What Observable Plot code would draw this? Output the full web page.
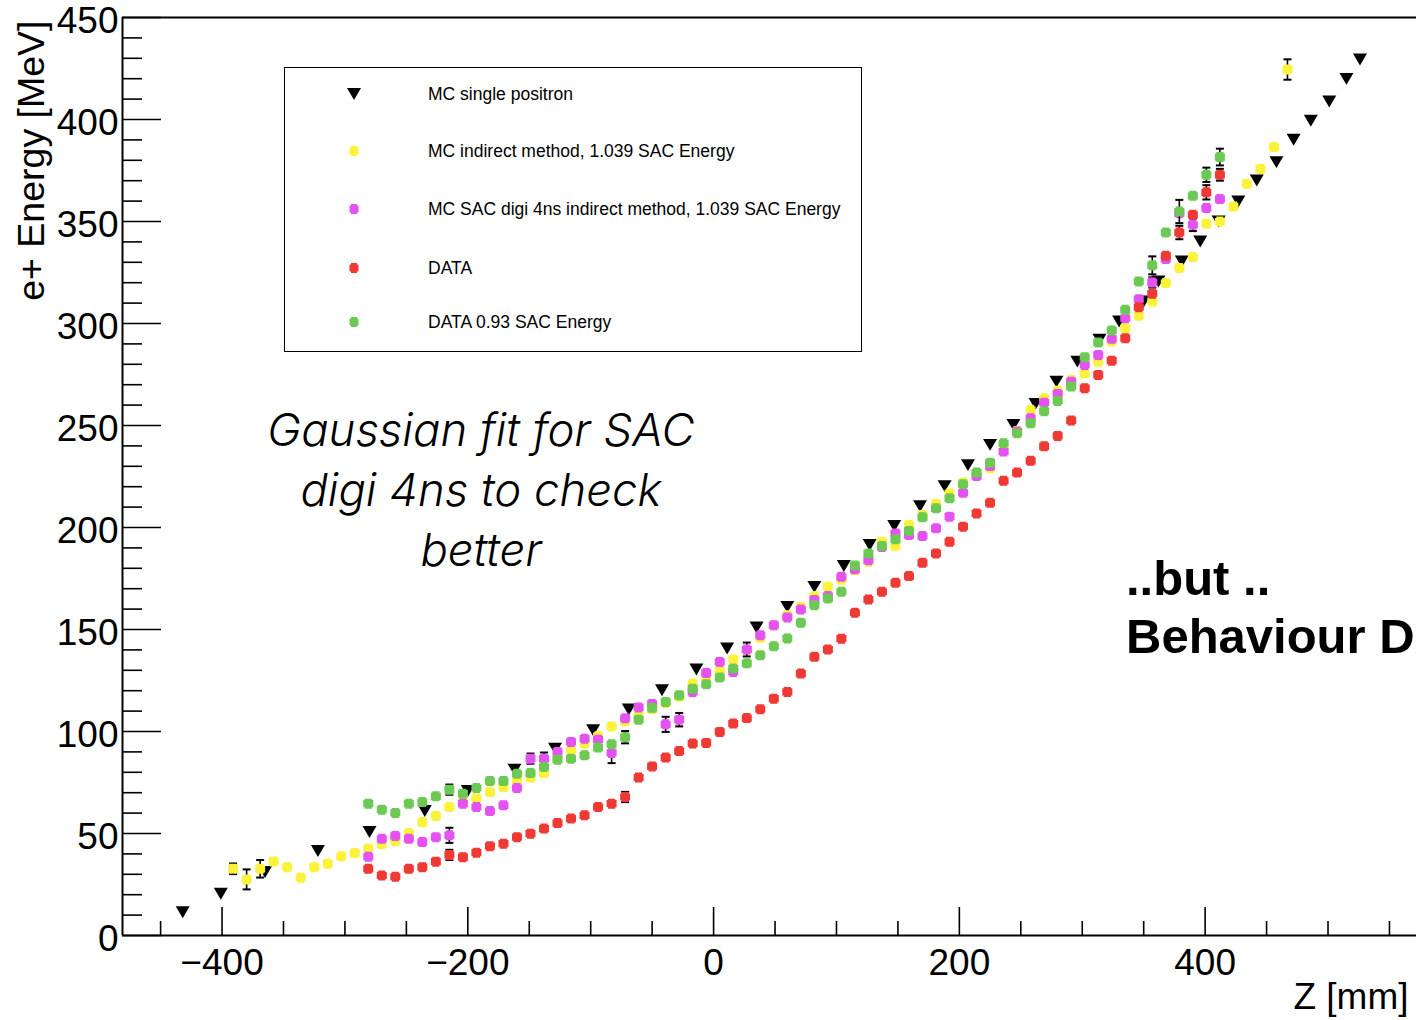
<!DOCTYPE html>
<html>
<head>
<meta charset="utf-8">
<script src="https://cdn.jsdelivr.net/npm/d3@7"></script>
<script src="https://cdn.jsdelivr.net/npm/@observablehq/plot@0.6"></script>
<style>
  html, body { margin: 0; padding: 0; background: #fff; overflow: hidden; }
  #wrap { position: relative; width: 1416px; height: 1020px; overflow: hidden; font-family: "Liberation Sans", Helvetica, Arial, sans-serif; }
  #legend { position: absolute; left: 284px; top: 67px; width: 576px; height: 283px; border: 1.5px solid #000; background: #fff; }
  .lrow { position: absolute; left: 0; height: 20px; font-size: 17.5px; color: #000; }
  .lrow svg { position: absolute; left: 61px; top: 0; }
  .lrow span { position: absolute; left: 143px; top: 0; line-height: 20px; white-space: nowrap; }
  .note { position: absolute; font-family: Inter, "Liberation Sans", sans-serif; font-style: italic; font-weight: 300; font-size: 45.5px; color: #000; text-align: center; line-height: 60px; }
  .bold { position: absolute; font-weight: bold; font-size: 49px; color: #000; white-space: nowrap; line-height: 58px; }
</style>
</head>
<body>
<div id="wrap"></div>
<script>
// ---------------- data ----------------
// Z bin centres [mm] of the indirect-method curves
const zBins = [-391, -380, -369, -358, -347, -336, -325, -314, -303, -292, -281, -270, -259, -248, -237, -226, -215, -204, -193, -182, -171, -160, -149, -138, -127, -116, -105, -94, -83, -72, -61, -50, -39, -28, -17, -6, 5, 16, 27, 38, 49, 60, 71, 82, 93, 104, 115, 126, 137, 148, 159, 170, 181, 192, 203, 214, 225, 236, 247, 258, 269, 280, 291, 302, 313, 324, 335, 346, 357, 368, 379, 390, 401, 412, 423, 434, 445, 456, 467];

// MC single positron (black down-triangles)
const mcSingleZ = [-432, -401, -365, -322, -280, -235, -200, -162, -129, -98, -69, -42, -14, 11, 35, 60, 82, 106, 127, 147, 168, 188, 207, 225, 244, 262, 279, 296, 314, 330, 350, 362, 381, 396, 411, 427, 442, 458, 472, 486, 501, 515, 526];
const mcSingleE = [11.4, 20.5, 31.1, 41.4, 50.7, 61.0, 70.8, 81.3, 91.6, 100.6, 110.8, 120.2, 130.4, 140.7, 151.0, 161.1, 170.9, 181.1, 191.4, 200.7, 210.5, 220.3, 230.6, 240.5, 250.3, 260.6, 271.5, 281.3, 292.0, 301.0, 310.8, 320.6, 330.4, 340.2, 350.0, 359.8, 370.1, 379.1, 390.1, 399.4, 408.8, 419.9, 429.4];

// MC indirect method, 1.039 SAC Energy (yellow)
const mcIndirect = [32.7, 27.5, 32.7, 36.3, 33.5, 28.3, 33.5, 35.2, 38.8, 40.4, 42.6, 44.8, 46.2, 50.2, 55.6, 58.6, 63.0, 66.6, 67.1, 70.3, 72.8, 76.1, 77.4, 79.6, 87.0, 90.8, 94.1, 97.7, 102.4, 105.0, 108.5, 111.0, 114.0, 117.0, 123.5, 127.0, 130.0, 135.3, 140.0, 145.9, 152.0, 157.0, 161.0, 166.4, 170.9, 174.4, 179.1, 183.2, 193.0, 191.0, 201.2, 206.1, 211.5, 216.7, 222.0, 225.7, 229.0, 238.8, 247.3, 257.6, 263.4, 267.0, 272.3, 275.6, 281.3, 291.2, 297.7, 303.8, 310.8, 319.8, 327.2, 332.6, 348.9, 350.0, 357.4, 368.5, 375.7, 386.5, 424.5];

// MC SAC digi 4ns indirect method, 1.039 SAC Energy (magenta)
const mcDigi = [null, null, null, null, null, null, null, null, null, null, 38.6, 47.4, 48.8, 47.4, 45.8, 48.2, 49.1, 64.6, 63.0, 61.0, 63.8, 72.3, 86.7, 86.7, 90.0, 94.9, 96.5, 96.0, 89.5, 106.5, 111.8, 113.5, 103.5, 105.8, 119.4, 128.7, 134.1, 129.2, 140.2, 147.2, 152.1, 155.9, 159.8, 164.5, 166.4, 175.8, 179.5, 184.0, 190.5, 197.1, 196.3, 195.8, 199.6, 205.3, 217.0, 225.2, 230.1, 237.2, 247.0, 253.6, 261.2, 265.5, 271.5, 279.7, 284.6, 292.5, 302.6, 311.9, 320.1, 331.6, 354.0, 348.4, 356.6, 361.0, null, null, null, null, null];

// DATA (red)
const dataE = [null, null, null, null, null, null, null, null, null, null, 32.7, 29.4, 28.8, 32.7, 33.5, 36.2, 39.5, 38.4, 40.6, 43.8, 45.0, 48.2, 49.9, 52.4, 55.1, 57.3, 58.9, 63.0, 64.6, 67.9, 77.4, 82.9, 87.2, 90.4, 94.1, 94.4, 99.8, 103.9, 106.6, 110.9, 116.1, 119.4, 128.4, 136.6, 140.2, 145.5, 158.2, 164.7, 168.5, 172.9, 176.2, 182.7, 187.3, 193.0, 200.4, 206.9, 212.1, 222.9, 226.9, 232.7, 239.8, 244.9, 252.5, 268.3, 274.8, 281.8, 292.8, 308.0, 314.6, 333.2, 344.6, 353.3, 364.3, 372.9, null, null, null, null, null];

// DATA 0.93 SAC Energy (green)
const data093 = [null, null, null, null, null, null, null, null, null, null, 64.6, 61.7, 60.1, 64.6, 65.4, 68.2, 71.5, 69.5, 72.3, 75.7, 75.7, 79.3, 79.6, 82.6, 86.2, 86.7, 88.3, 92.1, 93.8, 97.2, 105.8, 111.6, 114.5, 117.8, 121.0, 123.2, 126.5, 130.9, 133.4, 137.4, 141.8, 145.6, 153.3, 161.9, 165.2, 168.5, 181.4, 187.3, 190.9, 194.2, 198.3, 205.0, 209.4, 214.3, 221.2, 226.9, 231.8, 241.3, 246.2, 251.1, 257.0, 262.0, 269.1, 283.5, 290.7, 296.6, 306.7, 320.6, 328.5, 344.6, 354.9, 362.6, 372.9, 381.6, null, null, null, null, null];

// visible error bars: [bin index, half error]
const errIndirect = [[0, 2.6], [1, 4.9], [2, 4.3], [78, 5.0]];
const errDigi = [[16, 3.7], [22, 2.5], [23, 3.0], [28, 5.0], [32, 3.7], [33, 3.3], [38, 3.4], [68, 2.5], [71, 3.1]];
const errData = [[16, 2.5], [29, 2.5], [70, 3.3], [72, 3.5], [73, 2.9]];
const err093 = [[16, 2.5], [29, 3.0], [68, 4.4], [70, 5.7], [72, 3.5], [73, 4.1]];

// axes
const xMajor = [-400, -200, 0, 200, 400];
const xMinor = [-450, -350, -300, -250, -150, -100, -50, 50, 100, 150, 250, 300, 350, 450, 500, 550];
const yMajor = [0, 50, 100, 150, 200, 250, 300, 350, 400, 450];
const yMinor = [10, 20, 30, 40, 60, 70, 80, 90, 110, 120, 130, 140, 160, 170, 180, 190, 210, 220, 230, 240, 260, 270, 280, 290, 310, 320, 330, 340, 360, 370, 380, 390, 410, 420, 430, 440];
const xDomain = [-481, 572];
const yDomain = [0, 450];

const seriesNames = ["MC single positron", "MC indirect method, 1.039 SAC Energy", "MC SAC digi 4ns indirect method, 1.039 SAC Energy", "DATA", "DATA 0.93 SAC Energy"];
const seriesColors = ["#000000", "#fbf23a", "#e552f2", "#ee3934", "#6cc953"];

// ---------------- build ----------------
const W = 1416, H = 1020;
const mL = 122, mR = 0, mT = 17, mB = 85;
const innerH = H - mT - mB;
const innerW = W - mL - mR;

const fullCross = {
  draw(ctx, size) {
    const a = Math.sqrt(size / Math.PI), b = a * 0.72;
    ctx.moveTo(-b, -a); ctx.lineTo(b, -a); ctx.lineTo(b, -b); ctx.lineTo(a, -b);
    ctx.lineTo(a, b); ctx.lineTo(b, b); ctx.lineTo(b, a); ctx.lineTo(-b, a);
    ctx.lineTo(-b, b); ctx.lineTo(-a, b); ctx.lineTo(-a, -b); ctx.lineTo(-b, -b);
    ctx.closePath();
  }
};
const triDown = {
  draw(ctx, size) {
    const r = Math.sqrt(size / Math.PI);
    ctx.moveTo(-r, -r * 0.85); ctx.lineTo(r, -r * 0.85); ctx.lineTo(0, r * 0.85); ctx.closePath();
  }
};
const capSym = {
  draw(ctx, size) {
    const r = Math.sqrt(size / Math.PI);
    ctx.moveTo(-r, 0); ctx.lineTo(r, 0);
  }
};

function pts(values) {
  return zBins.map((z, i) => ({z, v: values[i]})).filter(d => d.v != null);
}
function errs(values, list) {
  return list.map(([i, e]) => ({z: zBins[i], v: values[i], e}));
}

const black = mcSingleZ.map((z, i) => ({z, v: mcSingleE[i]}));
const sets = [
  {vals: mcIndirect, err: errIndirect, color: seriesColors[1]},
  {vals: mcDigi, err: errDigi, color: seriesColors[2]},
  {vals: dataE, err: errData, color: seriesColors[3]},
  {vals: data093, err: err093, color: seriesColors[4]}
];

const fmt = d => d < 0 ? "\u2212" + Math.abs(d) : String(d);
const font = '"Liberation Sans", Helvetica, Arial, sans-serif';

const marks = [
  // frame lines
  Plot.ruleY([yDomain[1]], {stroke: "#000", strokeWidth: 2}),
  Plot.ruleY([yDomain[0]], {stroke: "#000", strokeWidth: 2}),
  Plot.ruleX([xDomain[0]], {stroke: "#000", strokeWidth: 2}),
  // ticks (drawn inside the frame, ROOT style)
  Plot.ruleX(xMajor, {stroke: "#000", strokeWidth: 1.6, insetTop: innerH - 28}),
  Plot.ruleX(xMinor, {stroke: "#000", strokeWidth: 1.6, insetTop: innerH - 14}),
  Plot.ruleY(yMajor, {stroke: "#000", strokeWidth: 1.6, insetRight: innerW - 39}),
  Plot.ruleY(yMinor, {stroke: "#000", strokeWidth: 1.6, insetRight: innerW - 20}),
  // tick labels
  Plot.text(xMajor, {x: d => d, text: fmt, frameAnchor: "bottom", dy: 28, lineAnchor: "middle", fontSize: 37, fill: "#000"}),
  Plot.text(yMajor, {y: d => d, text: fmt, frameAnchor: "left", dx: -4, dy: 4, textAnchor: "end", lineAnchor: "middle", fontSize: 37, fill: "#000"}),
  // axis titles
  Plot.text(["Z [mm]"], {frameAnchor: "bottom-right", dx: -8, dy: 62, textAnchor: "end", lineAnchor: "middle", fontSize: 37, fill: "#000"}),
  Plot.text(["e+ Energy [MeV]"], {frameAnchor: "top-left", dx: -91, dy: 3, rotate: -90, textAnchor: "end", lineAnchor: "middle", fontSize: 37.5, fill: "#000"}),
  // MC single positron
  Plot.dot(black, {x: "z", y: "v", symbol: triDown, r: 7, fill: seriesColors[0], stroke: "none"})
];
for (const s of sets) {
  const e = errs(s.vals, s.err);
  marks.push(Plot.ruleX(e, {x: "z", y1: d => d.v - d.e, y2: d => d.v + d.e, stroke: "#000", strokeWidth: 1.6}));
  marks.push(Plot.dot(e, {x: "z", y: d => d.v - d.e, symbol: capSym, r: 4, stroke: "#000", strokeWidth: 2, fill: "none"}));
  marks.push(Plot.dot(e, {x: "z", y: d => d.v + d.e, symbol: capSym, r: 4, stroke: "#000", strokeWidth: 2, fill: "none"}));
  marks.push(Plot.dot(pts(s.vals), {x: "z", y: "v", symbol: fullCross, r: 5, fill: s.color, stroke: "none"}));
}

const chart = Plot.plot({
  width: W, height: H,
  marginLeft: mL, marginRight: mR, marginTop: mT, marginBottom: mB,
  style: {fontFamily: font, background: "#fff", overflow: "visible"},
  x: {domain: xDomain, axis: null},
  y: {domain: yDomain, axis: null},
  marks
});
const wrap = document.getElementById("wrap");
chart.style.position = "absolute";
chart.style.left = "0px";
chart.style.top = "0px";
wrap.appendChild(chart);

// legend
const legend = document.createElement("div");
legend.id = "legend";
const rowTops = [16, 73, 131, 190, 244];
seriesNames.forEach((name, i) => {
  const row = document.createElement("div");
  row.className = "lrow";
  row.style.top = rowTops[i] + "px";
  const shape = i === 0
    ? '<polygon points="1,4 15,4 8,16" fill="#000"/>'
    : `<polygon points="5,5 11,5 11,6.5 12.5,6.5 12.5,13.5 11,13.5 11,15 5,15 5,13.5 3.5,13.5 3.5,6.5 5,6.5" fill="${seriesColors[i]}"/>`;
  row.innerHTML = `<svg width="16" height="20">${shape}</svg><span>${name}</span>`;
  legend.appendChild(row);
});
wrap.appendChild(legend);

// annotations
const note = document.createElement("div");
note.className = "note";
note.style.left = "181px";
note.style.top = "400px";
note.style.width = "600px";
note.innerHTML = "Gaussian fit for SAC<br>digi 4ns to check<br>better";
wrap.appendChild(note);

const b1 = document.createElement("div");
b1.className = "bold";
b1.style.left = "1126px";
b1.style.top = "549px";
b1.textContent = "..but ..";
wrap.appendChild(b1);
const b2 = document.createElement("div");
b2.className = "bold";
b2.style.left = "1126px";
b2.style.top = "607px";
b2.textContent = "Behaviour DATA";
wrap.appendChild(b2);
</script>
</body>
</html>
